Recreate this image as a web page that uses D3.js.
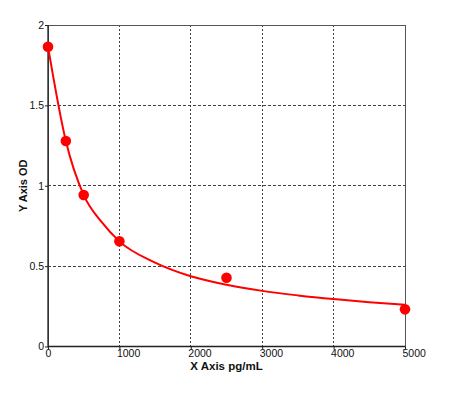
<!DOCTYPE html>
<html><head><meta charset="utf-8">
<script src="https://cdn.jsdelivr.net/npm/d3@7"></script>
<style>
html,body{margin:0;padding:0;background:#fff;}
svg{display:block;font-family:"Liberation Sans",Arial,sans-serif;}
</style></head>
<body>
<svg id="chart" width="461" height="407"></svg>
<script>
const xTicks = [0, 1000, 2000, 3000, 4000, 5000];
const yTicks = [0, 0.5, 1, 1.5, 2];
const stdConc = [0, 250, 500, 1000, 2500, 5000];
const stdOD = [1.865, 1.278, 0.942, 0.654, 0.428, 0.231];
const fitConc = [0, 250, 500, 750, 1000, 1500, 2000, 2500, 3000, 3500, 4000, 4500, 5000];
const fitOD = [1.865, 1.278, 0.942, 0.775, 0.654, 0.522, 0.437, 0.384, 0.346, 0.318, 0.295, 0.276, 0.259];
const xTitle = "X Axis pg/mL";
const yTitle = "Y Axis OD";

const svg = d3.select("#chart");
const L = 48, R = 405, T = 25, B = 346.5;
const x = d3.scaleLinear().domain([0, 5000]).range([L, R]);
const y = d3.scaleLinear().domain([0, 2]).range([B, T]);

// gridlines
const grid = svg.append("g");
grid.selectAll("line.vx").data(xTicks.filter(d => d > 0 && d < 5000)).join("line")
  .attr("x1", d => x(d)).attr("x2", d => x(d)).attr("y1", T).attr("y2", B)
  .attr("stroke", "#404040").attr("stroke-width", 1).attr("stroke-dasharray", "2,2")
  .attr("shape-rendering", "crispEdges");
grid.selectAll("line.hy").data(yTicks.filter(d => d > 0 && d < 2)).join("line")
  .attr("x1", L).attr("x2", R).attr("y1", d => y(d)).attr("y2", d => y(d))
  .attr("stroke", "#404040").attr("stroke-width", 1).attr("stroke-dasharray", "3,2")
  .attr("shape-rendering", "crispEdges");

// frame
svg.append("rect").attr("x", L).attr("y", T).attr("width", R - L).attr("height", B - T)
  .attr("fill", "none").attr("stroke", "#555").attr("stroke-width", 1).attr("shape-rendering", "crispEdges");
svg.append("path").attr("d", `M${L},${T}V${B}H${R}`)
  .attr("fill", "none").attr("stroke", "#222").attr("stroke-width", 1.3);

// axes
const xAxis = svg.append("g").attr("transform", `translate(0,${B})`)
  .call(d3.axisBottom(x).tickValues(xTicks).tickSize(3).tickPadding(0).tickFormat(d3.format("d")));
xAxis.select(".domain").remove();
xAxis.selectAll("text").attr("x", -3).attr("text-anchor", "start")
  .attr("font-size", "10.5px").attr("fill", "#111").attr("font-family", "Liberation Sans, Arial, sans-serif");
xAxis.selectAll("line").attr("stroke", "#222");

const yAxis = svg.append("g").attr("transform", `translate(${L},0)`)
  .call(d3.axisLeft(y).tickValues(yTicks).tickSize(3).tickPadding(1).tickFormat(d => String(d)));
yAxis.select(".domain").remove();
yAxis.selectAll("text").attr("font-size", "10.5px").attr("fill", "#111")
  .attr("font-family", "Liberation Sans, Arial, sans-serif");
yAxis.selectAll("line").attr("stroke", "#222");

// titles
svg.append("text").attr("x", (L + R) / 2).attr("y", 370).attr("text-anchor", "middle")
  .attr("font-size", "11.5px").attr("font-weight", "bold").attr("fill", "#111").text(xTitle);
svg.append("text").attr("transform", `translate(26.5,${(T + B) / 2}) rotate(-90)`)
  .attr("text-anchor", "middle").attr("font-size", "11px").attr("font-weight", "bold")
  .attr("fill", "#111").text(yTitle);

// fitted curve
const fit = fitConc.map((c, i) => [c, fitOD[i]]);
svg.append("path").datum(fit)
  .attr("d", d3.line().x(d => x(d[0])).y(d => y(d[1])).curve(d3.curveMonotoneX))
  .attr("fill", "none").attr("stroke", "#ff0000").attr("stroke-width", 2);

// points
svg.selectAll("circle.pt").data(stdConc.map((c, i) => [c, stdOD[i]])).join("circle")
  .attr("cx", d => x(d[0])).attr("cy", d => y(d[1])).attr("r", 5.3)
  .attr("fill", "#ff0000");
</script>
</body></html>
